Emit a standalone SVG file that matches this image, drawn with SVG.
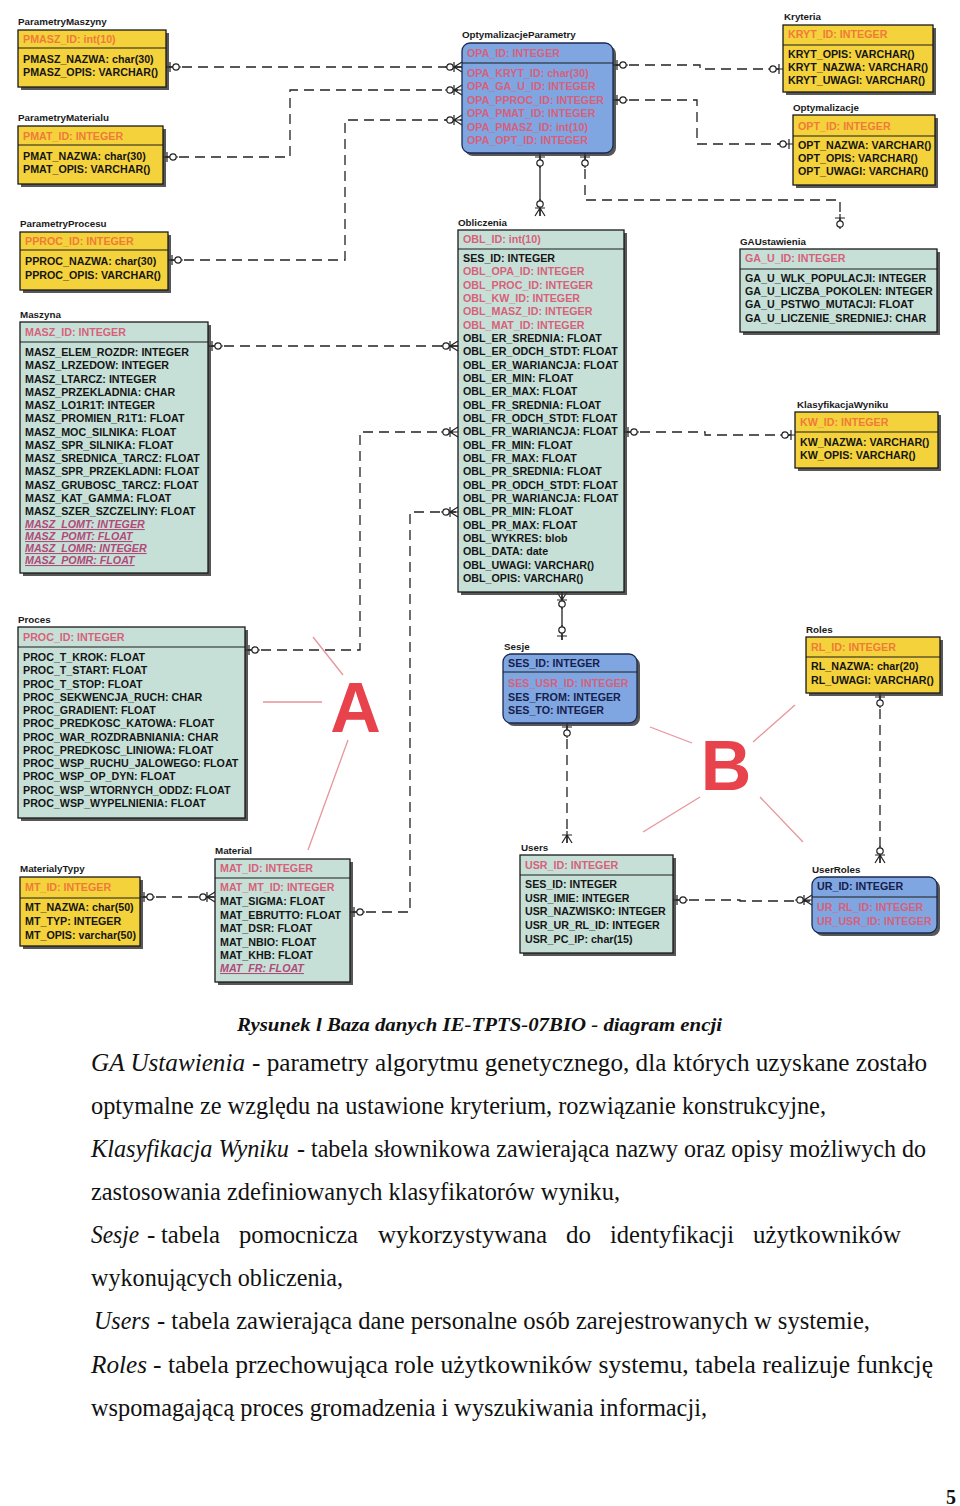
<svg xmlns="http://www.w3.org/2000/svg" xmlns:xlink="http://www.w3.org/1999/xlink" width="960" height="1506" viewBox="0 0 960 1506">
<style>
.lbl{font-family:"Liberation Sans",Arial,sans-serif;font-weight:bold;font-size:9.8px;fill:#1a1a1a}
.t{font-family:"Liberation Sans",Arial,sans-serif;font-weight:bold;font-size:10.7px;fill:#151515}
.k{fill:#f07a3a}
.f{fill:#d8607a}
.n{fill:#16204a}
.u{font-style:italic;text-decoration:underline;fill:#b04a78}
.yel{fill:#f4d23c;stroke:#1a1a1a;stroke-width:1.3}
.tea{fill:#c6e0d8;stroke:#1a1a1a;stroke-width:1.3}
.blu{fill:#80a6e2;stroke:#1a2a50;stroke-width:1.3}
.sh{fill:#3a3a3a;opacity:.85}
.dv{stroke:#1a1a1a;stroke-width:1.2}
.dash{fill:none;stroke:#222;stroke-width:1.3;stroke-dasharray:10 6}
.sol{fill:none;stroke:#222;stroke-width:1.3}
.sym path{fill:none;stroke:#222;stroke-width:1.2}
.sym circle{fill:#fff;stroke:#222;stroke-width:1.2}
.red{stroke:#e8949a;stroke-width:1.3;fill:none}
.big{font-family:"Liberation Sans",Arial,sans-serif;font-weight:bold;font-size:70px;fill:#e8424c}
.body{font-family:"Liberation Serif","Times New Roman",serif;font-size:25px;fill:#111}
.it{font-style:italic}
.cap{font-family:"Liberation Serif","Times New Roman",serif;font-size:19px;font-weight:bold;font-style:italic;fill:#111}
</style>
<defs>
<g id="one" class="sym"><path d="M0,0H15M4,-5V5"/><circle cx="10" cy="0" r="3.2"/></g>
<g id="many" class="sym"><path d="M-17,0H0M-8,0L0,-5M-8,0L0,5M-8,-5V5"/><circle cx="-12" cy="0" r="3.2"/></g>
<g id="manyM" class="sym"><path d="M-12,0H0M-8,0L0,-5M-8,0L0,5M-8,-5V5"/></g>
</defs>
<rect x="0" y="0" width="960" height="1506" fill="#fff"/>

<g id="connectors">
<path class="dash" d="M166,67H462"/>
<path class="dash" d="M163,157H290V90H462"/>
<path class="dash" d="M168,260H345V120H462"/>
<path class="dash" d="M613,65H700V69H783"/>
<path class="dash" d="M613,100H697V144H793"/>
<path class="sol" d="M540,153V216"/>
<path class="dash" d="M585,153V200H840V234"/>
<path class="dash" d="M208,346H458"/>
<path class="dash" d="M245,650H360V432H458"/>
<path class="dash" d="M350,912H410V512H458"/>
<path class="dash" d="M624,432H705V435H795"/>
<path class="sol" d="M562,592V640"/>
<path class="dash" d="M567,723V843"/>
<path class="dash" d="M880,693V863"/>
<path class="dash" d="M673,900H740V901H812"/>
<path class="dash" d="M140,897H215"/>
<use xlink:href="#one" transform="translate(166,67)"/>
<use xlink:href="#many" transform="translate(462,67)"/>
<use xlink:href="#one" transform="translate(163,157)"/>
<use xlink:href="#many" transform="translate(462,90)"/>
<use xlink:href="#one" transform="translate(168,260)"/>
<use xlink:href="#many" transform="translate(462,120)"/>
<use xlink:href="#one" transform="translate(613,65)"/>
<use xlink:href="#one" transform="translate(783,69) rotate(180)"/>
<use xlink:href="#one" transform="translate(613,100)"/>
<use xlink:href="#one" transform="translate(793,144) rotate(180)"/>
<use xlink:href="#one" transform="translate(540,153) rotate(90)"/>
<use xlink:href="#many" transform="translate(540,216) rotate(90)"/>
<use xlink:href="#one" transform="translate(585,153) rotate(90)"/>
<use xlink:href="#one" transform="translate(840,214) rotate(90)"/>
<use xlink:href="#one" transform="translate(208,346)"/>
<use xlink:href="#many" transform="translate(458,346)"/>
<use xlink:href="#one" transform="translate(245,650)"/>
<use xlink:href="#many" transform="translate(458,432)"/>
<use xlink:href="#one" transform="translate(350,912)"/>
<use xlink:href="#many" transform="translate(458,512)"/>
<use xlink:href="#one" transform="translate(624,432)"/>
<use xlink:href="#one" transform="translate(795,435) rotate(180)"/>
<use xlink:href="#many" transform="translate(562,592) rotate(-90)"/>
<use xlink:href="#one" transform="translate(562,640) rotate(-90)"/>
<use xlink:href="#one" transform="translate(567,723) rotate(90)"/>
<use xlink:href="#manyM" transform="translate(567,843) rotate(90)"/>
<use xlink:href="#one" transform="translate(880,693) rotate(90)"/>
<use xlink:href="#many" transform="translate(880,863) rotate(90)"/>
<use xlink:href="#one" transform="translate(673,900)"/>
<use xlink:href="#many" transform="translate(812,900)"/>
<use xlink:href="#one" transform="translate(140,897)"/>
<use xlink:href="#many" transform="translate(215,897)"/>
</g>

<g id="ParametryMaszyny">
<text class="lbl" x="18" y="25">ParametryMaszyny</text>
<rect class="sh" x="21" y="33" width="148" height="57"/>
<rect class="yel" x="18" y="30" width="148" height="57"/>
<line class="dv" x1="18" y1="48" x2="166" y2="48"/>
<text class="t k" x="23" y="43">PMASZ_ID: int(10)</text>
<text class="t" x="23" y="63">PMASZ_NAZWA: char(30)</text>
<text class="t" x="23" y="76">PMASZ_OPIS: VARCHAR()</text>
</g>

<g id="ParametryMaterialu">
<text class="lbl" x="18" y="121">ParametryMaterialu</text>
<rect class="sh" x="21" y="129" width="145" height="58"/>
<rect class="yel" x="18" y="126" width="145" height="58"/>
<line class="dv" x1="18" y1="145" x2="163" y2="145"/>
<text class="t k" x="23" y="140">PMAT_ID: INTEGER</text>
<text class="t" x="23" y="160">PMAT_NAZWA: char(30)</text>
<text class="t" x="23" y="173">PMAT_OPIS: VARCHAR()</text>
</g>

<g id="ParametryProcesu">
<text class="lbl" x="20" y="227">ParametryProcesu</text>
<rect class="sh" x="23" y="235" width="148" height="58"/>
<rect class="yel" x="20" y="232" width="148" height="58"/>
<line class="dv" x1="20" y1="250" x2="168" y2="250"/>
<text class="t k" x="25" y="245">PPROC_ID: INTEGER</text>
<text class="t" x="25" y="265">PPROC_NAZWA: char(30)</text>
<text class="t" x="25" y="279">PPROC_OPIS: VARCHAR()</text>
</g>

<g id="Maszyna">
<text class="lbl" x="20" y="318">Maszyna</text>
<rect class="sh" x="23" y="325" width="188" height="251"/>
<rect class="tea" x="20" y="322" width="188" height="251"/>
<line class="dv" x1="20" y1="342" x2="208" y2="342"/>
<text class="t f" x="25" y="336">MASZ_ID: INTEGER</text>
<text class="t" x="25" y="356">MASZ_ELEM_ROZDR: INTEGER</text>
<text class="t" x="25" y="369.3">MASZ_LRZEDOW: INTEGER</text>
<text class="t" x="25" y="382.5">MASZ_LTARCZ: INTEGER</text>
<text class="t" x="25" y="395.8">MASZ_PRZEKLADNIA: CHAR</text>
<text class="t" x="25" y="409">MASZ_LO1R1T: INTEGER</text>
<text class="t" x="25" y="422.3">MASZ_PROMIEN_R1T1: FLOAT</text>
<text class="t" x="25" y="435.5">MASZ_MOC_SILNIKA: FLOAT</text>
<text class="t" x="25" y="448.8">MASZ_SPR_SILNIKA: FLOAT</text>
<text class="t" x="25" y="462">MASZ_SREDNICA_TARCZ: FLOAT</text>
<text class="t" x="25" y="475.3">MASZ_SPR_PRZEKLADNI: FLOAT</text>
<text class="t" x="25" y="488.5">MASZ_GRUBOSC_TARCZ: FLOAT</text>
<text class="t" x="25" y="501.8">MASZ_KAT_GAMMA: FLOAT</text>
<text class="t" x="25" y="515">MASZ_SZER_SZCZELINY: FLOAT</text>
<text class="t u" x="25" y="528">MASZ_LOMT: INTEGER</text>
<text class="t u" x="25" y="540">MASZ_POMT: FLOAT</text>
<text class="t u" x="25" y="552">MASZ_LOMR: INTEGER</text>
<text class="t u" x="25" y="564">MASZ_POMR: FLOAT</text>
</g>

<g id="Proces">
<text class="lbl" x="18" y="623">Proces</text>
<rect class="sh" x="21" y="630" width="227" height="191"/>
<rect class="tea" x="18" y="627" width="227" height="191"/>
<line class="dv" x1="18" y1="647" x2="245" y2="647"/>
<text class="t f" x="23" y="641">PROC_ID: INTEGER</text>
<text class="t" x="23" y="661">PROC_T_KROK: FLOAT</text>
<text class="t" x="23" y="674.3">PROC_T_START: FLOAT</text>
<text class="t" x="23" y="687.5">PROC_T_STOP: FLOAT</text>
<text class="t" x="23" y="700.8">PROC_SEKWENCJA_RUCH: CHAR</text>
<text class="t" x="23" y="714.1">PROC_GRADIENT: FLOAT</text>
<text class="t" x="23" y="727.4">PROC_PREDKOSC_KATOWA: FLOAT</text>
<text class="t" x="23" y="740.6">PROC_WAR_ROZDRABNIANIA: CHAR</text>
<text class="t" x="23" y="753.9">PROC_PREDKOSC_LINIOWA: FLOAT</text>
<text class="t" x="23" y="767.2">PROC_WSP_RUCHU_JALOWEGO: FLOAT</text>
<text class="t" x="23" y="780.4">PROC_WSP_OP_DYN: FLOAT</text>
<text class="t" x="23" y="793.7">PROC_WSP_WTORNYCH_ODDZ: FLOAT</text>
<text class="t" x="23" y="807">PROC_WSP_WYPELNIENIA: FLOAT</text>
</g>

<g id="MaterialyTypy">
<text class="lbl" x="20" y="872">MaterialyTypy</text>
<rect class="sh" x="23" y="880" width="120" height="69"/>
<rect class="yel" x="20" y="877" width="120" height="69"/>
<line class="dv" x1="20" y1="898" x2="140" y2="898"/>
<text class="t k" x="25" y="891">MT_ID: INTEGER</text>
<text class="t" x="25" y="911">MT_NAZWA: char(50)</text>
<text class="t" x="25" y="925">MT_TYP: INTEGER</text>
<text class="t" x="25" y="939">MT_OPIS: varchar(50)</text>
</g>

<g id="Material">
<text class="lbl" x="215" y="854">Material</text>
<rect class="sh" x="218" y="862" width="135" height="123"/>
<rect class="tea" x="215" y="859" width="135" height="123"/>
<line class="dv" x1="215" y1="878" x2="350" y2="878"/>
<text class="t f" x="220" y="872">MAT_ID: INTEGER</text>
<text class="t f" x="220" y="891">MAT_MT_ID: INTEGER</text>
<text class="t" x="220" y="905">MAT_SIGMA: FLOAT</text>
<text class="t" x="220" y="919">MAT_EBRUTTO: FLOAT</text>
<text class="t" x="220" y="932">MAT_DSR: FLOAT</text>
<text class="t" x="220" y="946">MAT_NBIO: FLOAT</text>
<text class="t" x="220" y="959">MAT_KHB: FLOAT</text>
<text class="t u" x="220" y="972">MAT_FR: FLOAT</text>
</g>

<g id="OptymalizacjeParametry">
<text class="lbl" x="462" y="38">OptymalizacjeParametry</text>
<rect class="sh" x="465" y="46" width="151" height="110" rx="8"/>
<rect class="blu" x="462" y="43" width="151" height="110" rx="8"/>
<line class="dv" x1="462" y1="63" x2="613" y2="63"/>
<text class="t f" x="467" y="57">OPA_ID: INTEGER</text>
<text class="t f" x="467" y="77">OPA_KRYT_ID: char(30)</text>
<text class="t f" x="467" y="90.4">OPA_GA_U_ID: INTEGER</text>
<text class="t f" x="467" y="103.8">OPA_PPROC_ID: INTEGER</text>
<text class="t f" x="467" y="117.2">OPA_PMAT_ID: INTEGER</text>
<text class="t f" x="467" y="130.6">OPA_PMASZ_ID: int(10)</text>
<text class="t f" x="467" y="144">OPA_OPT_ID: INTEGER</text>
</g>

<g id="Kryteria">
<text class="lbl" x="784" y="20">Kryteria</text>
<rect class="sh" x="786" y="28" width="150" height="67"/>
<rect class="yel" x="783" y="25" width="150" height="67"/>
<line class="dv" x1="783" y1="45" x2="933" y2="45"/>
<text class="t k" x="788" y="38">KRYT_ID: INTEGER</text>
<text class="t" x="788" y="58">KRYT_OPIS: VARCHAR()</text>
<text class="t" x="788" y="71">KRYT_NAZWA: VARCHAR()</text>
<text class="t" x="788" y="84">KRYT_UWAGI: VARCHAR()</text>
</g>

<g id="Optymalizacje">
<text class="lbl" x="793" y="111">Optymalizacje</text>
<rect class="sh" x="796" y="118" width="142" height="70"/>
<rect class="yel" x="793" y="115" width="142" height="70"/>
<line class="dv" x1="793" y1="136" x2="935" y2="136"/>
<text class="t k" x="798" y="130">OPT_ID: INTEGER</text>
<text class="t" x="798" y="149">OPT_NAZWA: VARCHAR()</text>
<text class="t" x="798" y="162">OPT_OPIS: VARCHAR()</text>
<text class="t" x="798" y="175">OPT_UWAGI: VARCHAR()</text>
</g>

<g id="Obliczenia">
<text class="lbl" x="458" y="226">Obliczenia</text>
<rect class="sh" x="461" y="233" width="166" height="362"/>
<rect class="tea" x="458" y="230" width="166" height="362"/>
<line class="dv" x1="458" y1="249" x2="624" y2="249"/>
<text class="t f" x="463" y="243">OBL_ID: int(10)</text>
<text class="t" x="463" y="262">SES_ID: INTEGER</text>
<text class="t f" x="463" y="275.3">OBL_OPA_ID: INTEGER</text>
<text class="t f" x="463" y="288.7">OBL_PROC_ID: INTEGER</text>
<text class="t f" x="463" y="302">OBL_KW_ID: INTEGER</text>
<text class="t f" x="463" y="315.3">OBL_MASZ_ID: INTEGER</text>
<text class="t f" x="463" y="328.7">OBL_MAT_ID: INTEGER</text>
<text class="t" x="463" y="342">OBL_ER_SREDNIA: FLOAT</text>
<text class="t" x="463" y="355.3">OBL_ER_ODCH_STDT: FLOAT</text>
<text class="t" x="463" y="368.6">OBL_ER_WARIANCJA: FLOAT</text>
<text class="t" x="463" y="382">OBL_ER_MIN: FLOAT</text>
<text class="t" x="463" y="395.3">OBL_ER_MAX: FLOAT</text>
<text class="t" x="463" y="408.6">OBL_FR_SREDNIA: FLOAT</text>
<text class="t" x="463" y="422">OBL_FR_ODCH_STDT: FLOAT</text>
<text class="t" x="463" y="435.3">OBL_FR_WARIANCJA: FLOAT</text>
<text class="t" x="463" y="448.6">OBL_FR_MIN: FLOAT</text>
<text class="t" x="463" y="462">OBL_FR_MAX: FLOAT</text>
<text class="t" x="463" y="475.3">OBL_PR_SREDNIA: FLOAT</text>
<text class="t" x="463" y="488.6">OBL_PR_ODCH_STDT: FLOAT</text>
<text class="t" x="463" y="502">OBL_PR_WARIANCJA: FLOAT</text>
<text class="t" x="463" y="515.3">OBL_PR_MIN: FLOAT</text>
<text class="t" x="463" y="528.6">OBL_PR_MAX: FLOAT</text>
<text class="t" x="463" y="542">OBL_WYKRES: blob</text>
<text class="t" x="463" y="555.3">OBL_DATA: date</text>
<text class="t" x="463" y="568.6">OBL_UWAGI: VARCHAR()</text>
<text class="t" x="463" y="582">OBL_OPIS: VARCHAR()</text>
</g>

<g id="GAUstawienia">
<text class="lbl" x="740" y="245">GAUstawienia</text>
<rect class="sh" x="743" y="252" width="197" height="83"/>
<rect class="tea" x="740" y="249" width="197" height="83"/>
<line class="dv" x1="740" y1="269" x2="937" y2="269"/>
<text class="t f" x="745" y="262">GA_U_ID: INTEGER</text>
<text class="t" x="745" y="282">GA_U_WLK_POPULACJI: INTEGER</text>
<text class="t" x="745" y="295">GA_U_LICZBA_POKOLEN: INTEGER</text>
<text class="t" x="745" y="308">GA_U_PSTWO_MUTACJI: FLOAT</text>
<text class="t" x="745" y="322">GA_U_LICZENIE_SREDNIEJ: CHAR</text>
</g>

<g id="KlasyfikacjaWyniku">
<text class="lbl" x="797" y="408">KlasyfikacjaWyniku</text>
<rect class="sh" x="798" y="415" width="143" height="56"/>
<rect class="yel" x="795" y="412" width="143" height="56"/>
<line class="dv" x1="795" y1="432" x2="938" y2="432"/>
<text class="t k" x="800" y="426">KW_ID: INTEGER</text>
<text class="t" x="800" y="446">KW_NAZWA: VARCHAR()</text>
<text class="t" x="800" y="459">KW_OPIS: VARCHAR()</text>
</g>

<g id="Sesje">
<text class="lbl" x="504" y="650">Sesje</text>
<rect class="sh" x="506" y="657" width="134" height="69" rx="8"/>
<rect class="blu" x="503" y="654" width="134" height="69" rx="8"/>
<line class="dv" x1="503" y1="672" x2="637" y2="672"/>
<text class="t n" x="508" y="667">SES_ID: INTEGER</text>
<text class="t f" x="508" y="687">SES_USR_ID: INTEGER</text>
<text class="t n" x="508" y="701">SES_FROM: INTEGER</text>
<text class="t n" x="508" y="714">SES_TO: INTEGER</text>
</g>

<g id="Roles">
<text class="lbl" x="806" y="633">Roles</text>
<rect class="sh" x="809" y="640" width="134" height="56"/>
<rect class="yel" x="806" y="637" width="134" height="56"/>
<line class="dv" x1="806" y1="657" x2="940" y2="657"/>
<text class="t k" x="811" y="651">RL_ID: INTEGER</text>
<text class="t" x="811" y="670">RL_NAZWA: char(20)</text>
<text class="t" x="811" y="684">RL_UWAGI: VARCHAR()</text>
</g>

<g id="Users">
<text class="lbl" x="521" y="851">Users</text>
<rect class="sh" x="523" y="858" width="153" height="98"/>
<rect class="tea" x="520" y="855" width="153" height="98"/>
<line class="dv" x1="520" y1="875" x2="673" y2="875"/>
<text class="t f" x="525" y="869">USR_ID: INTEGER</text>
<text class="t" x="525" y="888">SES_ID: INTEGER</text>
<text class="t" x="525" y="902">USR_IMIE: INTEGER</text>
<text class="t" x="525" y="915">USR_NAZWISKO: INTEGER</text>
<text class="t" x="525" y="929">USR_UR_RL_ID: INTEGER</text>
<text class="t" x="525" y="943">USR_PC_IP: char(15)</text>
</g>

<g id="UserRoles">
<text class="lbl" x="812" y="873">UserRoles</text>
<rect class="sh" x="815" y="880" width="125" height="56" rx="8"/>
<rect class="blu" x="812" y="877" width="125" height="56" rx="8"/>
<line class="dv" x1="812" y1="897" x2="937" y2="897"/>
<text class="t n" x="817" y="890">UR_ID: INTEGER</text>
<text class="t f" x="817" y="911">UR_RL_ID: INTEGER</text>
<text class="t f" x="817" y="925">UR_USR_ID: INTEGER</text>
</g>

<g id="markA">
<path class="red" d="M313,637L343,675M263,702H322M348,740L308,850"/>
<text class="big" x="355.5" y="732" text-anchor="middle">A</text>
</g>
<g id="markB">
<path class="red" d="M650,727L692,743M753,742L795,705M643,832L700,797M760,797L803,842"/>
<text class="big" x="726" y="790" text-anchor="middle">B</text>
</g>

<g id="caption">
<text class="cap" x="237" y="1031" textLength="485" lengthAdjust="spacingAndGlyphs">Rysunek l Baza danych IE-TPTS-07BIO - diagram encji</text>
<text class="body it" x="91" y="1071" textLength="154" lengthAdjust="spacingAndGlyphs">GA Ustawienia</text>
<text class="body" x="252" y="1071" textLength="675" lengthAdjust="spacingAndGlyphs">- parametry algorytmu genetycznego, dla których uzyskane zostało</text>
<text class="body" x="91" y="1114" textLength="735" lengthAdjust="spacingAndGlyphs">optymalne ze względu na ustawione kryterium, rozwiązanie konstrukcyjne,</text>
<text class="body it" x="91" y="1157" textLength="198" lengthAdjust="spacingAndGlyphs">Klasyfikacja Wyniku</text>
<text class="body" x="297" y="1157" textLength="629" lengthAdjust="spacingAndGlyphs">- tabela słownikowa zawierająca nazwy oraz opisy możliwych do</text>
<text class="body" x="91" y="1200" textLength="529" lengthAdjust="spacingAndGlyphs">zastosowania zdefiniowanych klasyfikatorów wyniku,</text>
<text class="body it" x="91" y="1243" textLength="48" lengthAdjust="spacingAndGlyphs">Sesje</text>
<text class="body" x="147" y="1243">-</text>
<text class="body" x="161" y="1243" textLength="59" lengthAdjust="spacingAndGlyphs">tabela</text>
<text class="body" x="239" y="1243" textLength="119" lengthAdjust="spacingAndGlyphs">pomocnicza</text>
<text class="body" x="378" y="1243" textLength="169" lengthAdjust="spacingAndGlyphs">wykorzystywana</text>
<text class="body" x="566" y="1243" textLength="25" lengthAdjust="spacingAndGlyphs">do</text>
<text class="body" x="610" y="1243" textLength="124" lengthAdjust="spacingAndGlyphs">identyfikacji</text>
<text class="body" x="753" y="1243" textLength="148" lengthAdjust="spacingAndGlyphs">użytkowników</text>
<text class="body" x="91" y="1286" textLength="252" lengthAdjust="spacingAndGlyphs">wykonujących obliczenia,</text>
<text class="body it" x="94" y="1329" textLength="56" lengthAdjust="spacingAndGlyphs">Users</text>
<text class="body" x="157" y="1329" textLength="713" lengthAdjust="spacingAndGlyphs">- tabela zawierająca dane personalne osób zarejestrowanych w systemie,</text>
<text class="body it" x="91" y="1373" textLength="56" lengthAdjust="spacingAndGlyphs">Roles</text>
<text class="body" x="153" y="1373" textLength="780" lengthAdjust="spacingAndGlyphs">- tabela przechowująca role użytkowników systemu, tabela realizuje funkcję</text>
<text class="body" x="91" y="1416" textLength="616" lengthAdjust="spacingAndGlyphs">wspomagającą proces gromadzenia i wyszukiwania informacji,</text>
<text x="946" y="1504" font-family="Liberation Serif, serif" font-weight="bold" font-size="20" fill="#111">5</text>
</g>
</svg>
